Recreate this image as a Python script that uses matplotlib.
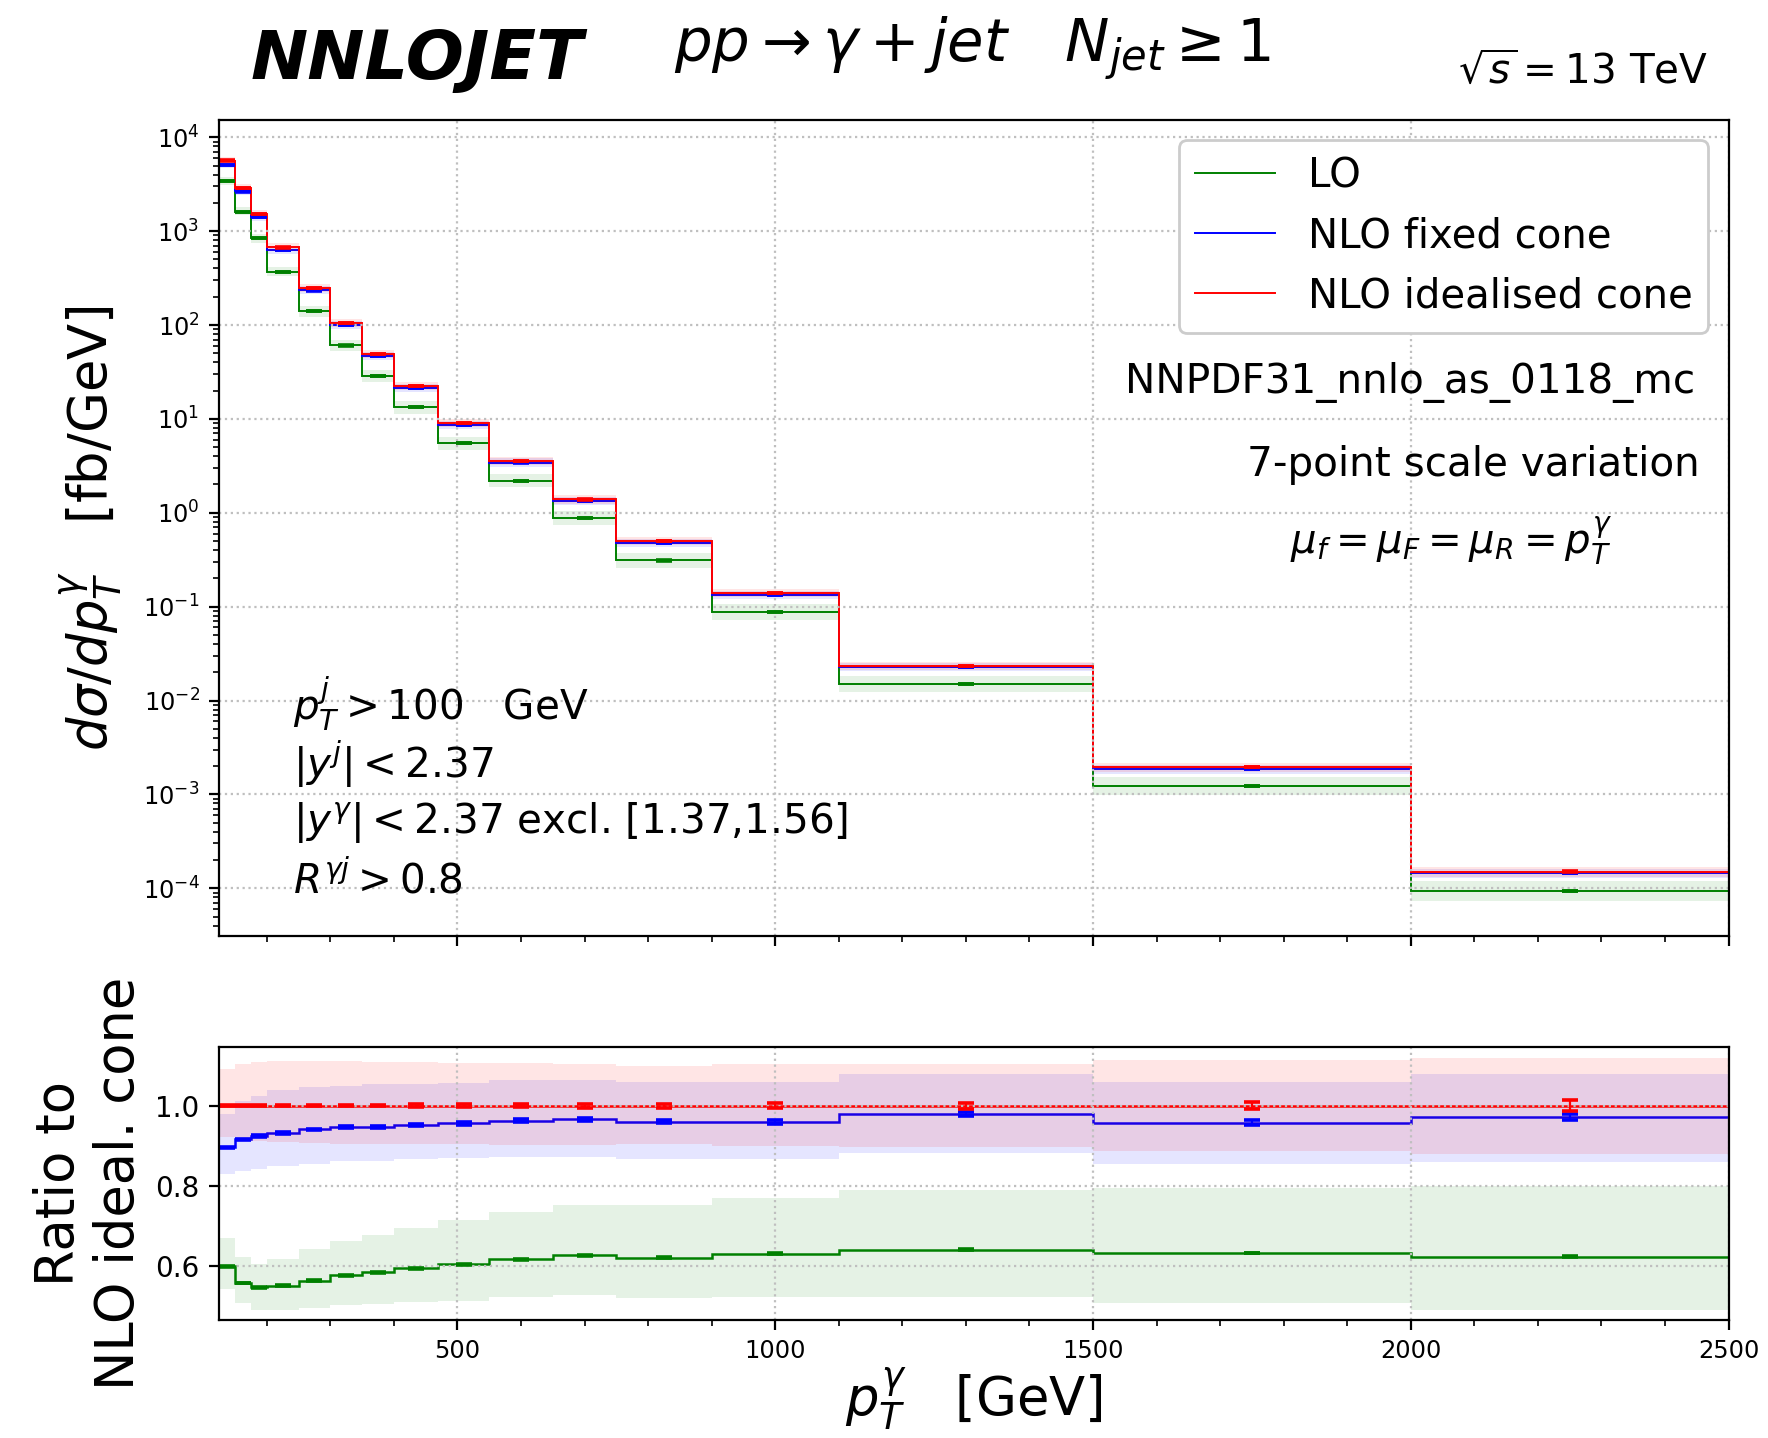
import matplotlib.pyplot as plt
import numpy as np
from matplotlib.ticker import MultipleLocator, LogLocator, NullFormatter

# bins in photon pT [GeV]
bin_edges = [125, 150, 175, 200, 250, 300, 350, 400, 470, 550, 650, 750, 900, 1100, 1500, 2000, 2500]

# NLO idealised cone, central value [fb/GeV]
xs_nlo_ideal = [5650, 2890, 1530, 670, 248, 105, 49.1, 22.3, 9.06, 3.56,
                1.39, 0.50, 0.139, 0.0233, 0.00195, 1.50e-4]

# central values as ratio to NLO idealised cone
ratio_nlo_fixed = [0.896, 0.916, 0.925, 0.932, 0.941, 0.947, 0.947, 0.952, 0.956, 0.963,
                   0.966, 0.960, 0.960, 0.980, 0.958, 0.972]
ratio_lo = [0.600, 0.558, 0.547, 0.551, 0.564, 0.577, 0.585, 0.595, 0.605, 0.617,
            0.627, 0.621, 0.631, 0.641, 0.633, 0.624]

# 7-point scale envelopes, as ratio to NLO idealised cone
ideal_up = [1.092, 1.104, 1.110, 1.111, 1.111, 1.111, 1.110, 1.109, 1.107, 1.107,
            1.105, 1.099, 1.104, 1.104, 1.114, 1.119]
ideal_dn = [0.922, 0.915, 0.911, 0.909, 0.906, 0.905, 0.905, 0.905, 0.904, 0.902,
            0.902, 0.905, 0.900, 0.897, 0.887, 0.880]
fixed_up = [0.980, 1.011, 1.023, 1.038, 1.047, 1.050, 1.054, 1.055, 1.057, 1.065,
            1.065, 1.058, 1.058, 1.078, 1.060, 1.079]
fixed_dn = [0.829, 0.837, 0.841, 0.850, 0.855, 0.861, 0.863, 0.866, 0.869, 0.871,
            0.871, 0.867, 0.866, 0.881, 0.854, 0.859]
lo_up = [0.669, 0.623, 0.606, 0.617, 0.642, 0.664, 0.678, 0.696, 0.714, 0.734,
         0.752, 0.752, 0.770, 0.790, 0.795, 0.800]
lo_dn = [0.543, 0.508, 0.492, 0.492, 0.495, 0.503, 0.506, 0.511, 0.514, 0.522,
         0.527, 0.520, 0.522, 0.524, 0.508, 0.492]

# MC statistical errors, as ratio to NLO idealised cone
stat_ideal = [0.002, 0.002, 0.002, 0.002, 0.002, 0.002, 0.002, 0.003, 0.003, 0.004,
              0.005, 0.005, 0.006, 0.007, 0.008, 0.0135]
stat_fixed = [0.002, 0.002, 0.002, 0.002, 0.002, 0.002, 0.002, 0.002, 0.003, 0.003,
              0.004, 0.004, 0.005, 0.005, 0.006, 0.007]
stat_lo = [0.001] * 16


def main():
    edges = np.array(bin_edges, dtype=float)
    centres = 0.5 * (edges[1:] + edges[:-1])
    ideal = np.array(xs_nlo_ideal)

    series = [
        ("LO", "green", np.array(ratio_lo), np.array(lo_up), np.array(lo_dn), np.array(stat_lo)),
        ("NLO fixed cone", "blue", np.array(ratio_nlo_fixed), np.array(fixed_up), np.array(fixed_dn),
         np.array(stat_fixed)),
        ("NLO idealised cone", "red", np.ones(16), np.array(ideal_up), np.array(ideal_dn),
         np.array(stat_ideal)),
    ]

    fig = plt.figure(figsize=(8.84, 7.19), dpi=200)
    ax = fig.add_axes([0.1239, 0.3491, 0.8538, 0.5675])
    rax = fig.add_axes([0.1239, 0.0821, 0.8538, 0.1900], sharex=ax)

    for label, col, rat, up, dn, st in series:
        ax.stairs(ideal * up, edges, baseline=ideal * dn, fill=True, color=col, alpha=0.1, lw=0)
        ax.stairs(ideal * rat, edges, color=col, lw=0.7, label=label, baseline=None)
        ax.errorbar(centres, ideal * rat, yerr=ideal * st, fmt="none", ecolor=col,
                    capsize=2.8, capthick=1.3, elinewidth=0.8)

        rax.stairs(up, edges, baseline=dn, fill=True, color=col, alpha=0.1, lw=0)
        rax.stairs(rat, edges, color=col, lw=0.9, baseline=None)
        rax.errorbar(centres, rat, yerr=st, fmt="none", ecolor=col,
                     capsize=2.8, capthick=1.3, elinewidth=0.8)

    ax.set_yscale("log")
    ax.set_xlim(125, 2500)
    ax.set_ylim(3.1e-5, 1.53e4)
    ax.yaxis.set_major_locator(LogLocator(base=10, numticks=20))
    ax.yaxis.set_minor_locator(LogLocator(base=10, subs=np.arange(2, 10), numticks=20))
    ax.yaxis.set_minor_formatter(NullFormatter())
    ax.xaxis.set_major_locator(MultipleLocator(500))
    ax.xaxis.set_minor_locator(MultipleLocator(100))
    ax.tick_params(axis="x", labelbottom=False)
    ax.tick_params(axis="y", labelsize=8.7)
    ax.grid(True, which="major", linestyle=":", color="0.75", lw=0.8)
    ax.set_ylabel(r"$d\sigma/dp_T^\gamma$   [fb/GeV]", fontsize=19)
    ax.yaxis.set_label_coords(-0.0625, 0.5)

    leg = ax.legend(loc="upper right", fontsize=14.5, framealpha=1, borderpad=0.4,
                    bbox_to_anchor=(1.0, 1.0))
    leg.get_frame().set_edgecolor("0.8")

    ax.text(0.978, 0.678, "NNPDF31_nnlo_as_0118_mc", transform=ax.transAxes,
            ha="right", va="center", fontsize=14.6)
    ax.text(0.981, 0.577, "7-point scale variation", transform=ax.transAxes,
            ha="right", va="center", fontsize=14.6)
    ax.text(0.816, 0.484, r"$\mu_f = \mu_F = \mu_R = p_T^\gamma$", transform=ax.transAxes,
            ha="center", va="center", fontsize=14.5)

    cuts = [r"$p_T^j > 100$   GeV", r"$|y^j| < 2.37$",
            r"$|y^\gamma| < 2.37$ excl. [1.37,1.56]", r"$R^{\gamma j} > 0.8$"]
    for txt, yy in zip(cuts, [0.2837, 0.2103, 0.1386, 0.0665]):
        ax.text(0.049, yy, txt, transform=ax.transAxes, ha="left", va="center", fontsize=14.6)

    rax.set_ylim(0.466, 1.147)
    rax.yaxis.set_major_locator(MultipleLocator(0.2))
    rax.tick_params(axis="y", labelsize=10)
    rax.tick_params(axis="x", labelsize=8.7)
    rax.grid(True, which="major", linestyle=":", color="0.75", lw=0.8)
    rax.set_ylabel("Ratio to\nNLO ideal. cone", fontsize=19, multialignment="center")
    rax.yaxis.set_label_coords(-0.049, 0.5)
    rax.set_xlabel(r"$p_T^\gamma$   [GeV]", fontsize=19, labelpad=1)

    fig.text(0.1415, 0.958, "NNLOJET", fontsize=24.6, fontweight="bold", style="italic",
             ha="left", va="center")
    fig.text(0.381, 0.966, r"$pp \to \gamma + jet \quad N_{jet} \geq 1$", fontsize=21.4,
             ha="left", va="center")
    fig.text(0.966, 0.950, r"$\sqrt{s} = 13$ TeV", fontsize=14.6, ha="right", va="center")

    fig.savefig("out.png", dpi=200)


if __name__ == "__main__":
    main()
